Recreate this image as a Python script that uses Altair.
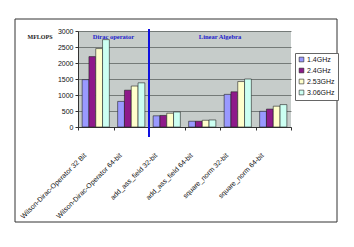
import altair as alt
import pandas as pd

categories = ["Wilson-Dirac-Operator 32 Bit", "Wilson-Dirac-Operator 64-bit",
              "add_ass_field 32-bit", "add_ass_field 64-bit",
              "square_norm 32-bit", "square_norm 64-bit"]
series = ["1.4GHz", "2.4GHz", "2.53GHz", "3.06GHz"]
v14 = [1480, 800, 350, 180, 1020, 490]
v24 = [2200, 1150, 360, 180, 1100, 560]
v253 = [2450, 1280, 430, 210, 1420, 650]
v306 = [2730, 1380, 470, 220, 1500, 700]
colors = ["#9999ff", "#8e1a8a", "#ffffcc", "#ccfff2"]
y_ticks = [0, 500, 1000, 1500, 2000, 2500, 3000]

rows = []
for s, vals in zip(series, [v14, v24, v253, v306]):
    for c, v in zip(categories, vals):
        rows.append({"cat": c, "series": s, "value": v})
df = pd.DataFrame(rows)

xscale = alt.Scale(domain=categories, paddingInner=0, paddingOuter=0)

bars = alt.Chart(df).mark_bar(stroke="#222222", strokeWidth=0.6).encode(
    x=alt.X("cat:N", scale=xscale, sort=categories, title=None,
            axis=alt.Axis(labelAngle=-45, labelAlign="right", labelBaseline="middle",
                          labelPadding=24, labelOffset=-11, tickBand="extent",
                          labelFontSize=7, labelFont="Liberation Sans",
                          labelColor="#111111", domainColor="#333333",
                          tickColor="#333333", tickSize=3, grid=False,
                          labelOverlap=False, labelLimit=200)),
    xOffset=alt.XOffset("series:N", sort=series,
                        scale=alt.Scale(paddingInner=0, paddingOuter=0.61)),
    y=alt.Y("value:Q", scale=alt.Scale(domain=[0, 3000], nice=False), title=None,
            axis=alt.Axis(values=y_ticks, format="d", labelFontSize=7,
                          labelFont="Liberation Sans",
                          labelColor="#111111", domainColor="#333333",
                          tickColor="#333333", tickSize=3, gridColor="#5f6463",
                          gridWidth=0.8, labelPadding=2)),
    color=alt.Color("series:N", sort=series,
                    scale=alt.Scale(domain=series, range=colors),
                    legend=alt.Legend(title=None, orient="none", legendX=217, legendY=22,
                                      symbolType="square", symbolSize=22,
                                      symbolStrokeColor="#222222", symbolStrokeWidth=0.6,
                                      labelFontSize=7, labelFont="Liberation Sans",
                                      labelColor="#111111", strokeColor="#666666",
                                      fillColor="white", padding=3, rowPadding=2,
                                      labelOffset=2)),
)

sep = alt.Chart(pd.DataFrame({"cat": [categories[2]]})).mark_rule(
    color="#1010e0", strokeWidth=2).encode(
    x=alt.X("cat:N", scale=xscale, sort=categories, bandPosition=0),
    y=alt.value(-2), y2=alt.value(106))

ann = pd.DataFrame({"txt": ["Dirac operator", "Linear Algebra"],
                    "cat": [categories[0], categories[3]]})
ann_text = alt.Chart(ann).mark_text(font="Liberation Serif", fontWeight="bold",
                                    fontSize=6.5, color="#2222cc").encode(
    x=alt.X("cat:N", scale=xscale, sort=categories, bandPosition=1),
    y=alt.value(6), text="txt:N")

mflops = alt.Chart(pd.DataFrame({"t": ["MFLOPS"]})).mark_text(
    font="Liberation Serif", fontWeight="bold", fontSize=6, color="#222222").encode(
    x=alt.value(-38), y=alt.value(6), text="t:N")

border = alt.Chart(pd.DataFrame({"a": [0]})).mark_rect(
    fill=None, stroke="#333333", strokeWidth=1).encode(
    x=alt.value(-63), x2=alt.value(259), y=alt.value(-12), y2=alt.value(191))

chart = alt.layer(bars, sep, ann_text, mflops, border).properties(
    width=213, height=96,
    autosize=alt.AutoSizeParams(type="none"),
    padding={"left": 70, "top": 23, "right": 55, "bottom": 112},
    background="white",
).configure_view(fill="#c6ccca", stroke=None)

chart.save("out.html", embed_options={"renderer": "svg", "actions": False})
